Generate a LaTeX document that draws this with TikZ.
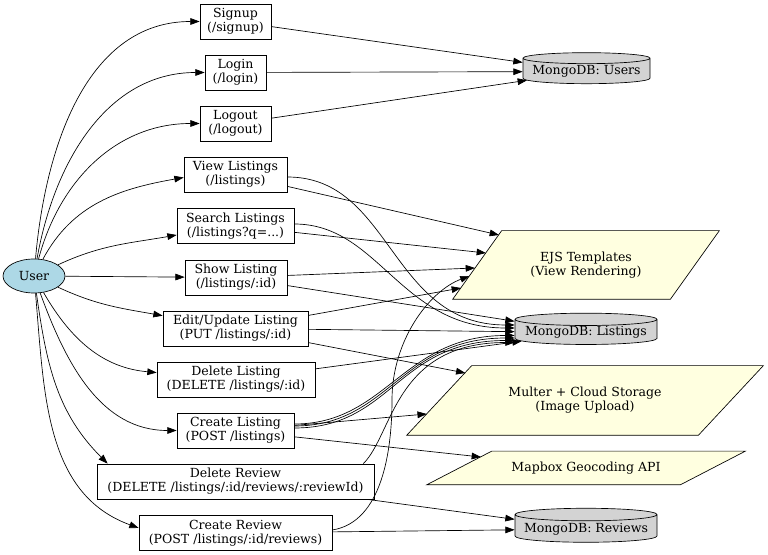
\documentclass[tikz,border=0pt]{standalone}
\usepackage{fontspec}
\setmainfont{DejaVu Serif}
\usetikzlibrary{shapes.geometric,arrows.meta,backgrounds}
\definecolor{ublue}{HTML}{ADD8E6}
\definecolor{ugray}{HTML}{D3D3D3}
\definecolor{uyellow}{HTML}{FFFFE0}
\newcommand\pgramshape[2]{%
  \begin{scope}[on background layer]
    \draw[fill=uyellow] (#1.south west) -- ([shift={(#2,0)}]#1.north west) -- (#1.north east) -- ([shift={(-#2,0)}]#1.south east) -- cycle;
  \end{scope}}
\begin{document}
\begin{tikzpicture}[x=0.75pt,y=0.75pt,
  font=\fontsize{9.4}{10.4}\selectfont,
  route/.style={draw, rectangle, align=center, inner sep=0.5pt, minimum height=26.25pt},
  db/.style={cylinder, shape border rotate=90, aspect=0.1, draw, fill=ugray, inner sep=0.5pt},
  ext/.style={rectangle, align=center, inner sep=0.5pt},
  arr/.style={-{Triangle[length=7pt,width=5pt]}, line width=0.5pt},
  every path/.style={line width=0.5pt}]
\useasboundingbox (0,0) rectangle (768,-555);

% user
\node[ellipse, draw, fill=ublue, minimum width=46.5pt, minimum height=25.5pt, inner sep=0pt] (user) at (34,-276) {User};

% routes
\node[route, minimum width=53.25pt] (signup) at (235.5,-21.5) {Signup\\(/signup)};
\node[route, minimum width=45.75pt] (login) at (235.5,-72.5) {Login\\(/login)};
\node[route, minimum width=53.25pt] (logout) at (235.5,-123.5) {Logout\\(/logout)};
\node[route, minimum width=77.25pt] (view) at (235.5,-174.5) {View Listings\\(/listings)};
\node[route, minimum width=87.75pt] (search) at (235.5,-226) {Search Listings\\(/listings?q=...)};
\node[route, minimum width=76.5pt] (show) at (236,-277.5) {Show Listing\\(/listings/:id)};
\node[route, minimum width=108.75pt] (edit) at (235.5,-328.5) {Edit/Update Listing\\(PUT /listings/:id)};
\node[route, minimum width=118.5pt] (dellist) at (236,-379.5) {Delete Listing\\(DELETE /listings/:id)};
\node[route, minimum width=87.75pt] (create) at (235.5,-430.5) {Create Listing\\(POST /listings)};
\node[route, minimum width=207.75pt] (delrev) at (235.5,-481.5) {Delete Review\\(DELETE /listings/:id/reviews/:reviewId)};
\node[route, minimum width=144.75pt] (createrev) at (235.5,-533) {Create Review\\(POST /listings/:id/reviews)};

% targets
\node[db, minimum width=95.25pt, minimum height=23.25pt] (users) at (586.5,-71.5) {MongoDB: Users};
\node[db, minimum width=106.5pt, minimum height=23.25pt] (listings) at (586,-332.5) {MongoDB: Listings};
\node[db, minimum width=106.5pt, minimum height=25.5pt] (reviews) at (586,-529) {MongoDB: Reviews};
\node[ext, minimum width=199.5pt, minimum height=51pt] (ejs) at (586,-265) {EJS Templates\\(View Rendering)};
\pgramshape{ejs}{49}
\node[ext, minimum width=267pt, minimum height=51.75pt] (multer) at (585,-400.5) {Multer + Cloud Storage\\(Image Upload)};
\pgramshape{multer}{65}
\node[ext, minimum width=238.5pt, minimum height=24.75pt] (mapbox) at (586,-468) {Mapbox Geocoding API};
\pgramshape{mapbox}{65}

% entry points on the slanted sides
\coordinate (ejsA) at ([shift={(-87,30)}]ejs.center);
\coordinate (ejsB) at ([shift={(-100,12)}]ejs.center);
\coordinate (ejsC) at ([shift={(-111,-3)}]ejs.center);
\coordinate (ejsD) at ([shift={(-116.5,-11)}]ejs.center);
\coordinate (ejsE) at ([shift={(-125,-23)}]ejs.center);
\coordinate (multerA) at ([shift={(-119.6,27.5)}]multer.center);
\coordinate (multerB) at ([shift={(-158.2,-13.5)}]multer.center);
\coordinate (mapboxA) at ([shift={(-105,11)}]mapbox.center);
\coordinate (revbend) at (392,-400);

% user edges
\draw[arr] (user) to[out=85,in=180] (signup);
\draw[arr] (user) to[out=80,in=180] (login);
\draw[arr] (user) to[out=75,in=180] (logout);
\draw[arr] (user) to[out=62,in=190] ([shift={(0,-3)}]view.west);
\draw[arr] (user) to[out=25,in=190] ([shift={(0,-9)}]search.west);
\draw[arr] (user) -- (show);
\draw[arr] (user) to[out=-25,in=170] (edit);
\draw[arr] (user) to[out=-60,in=175] (dellist);
\draw[arr] (user) to[out=-70,in=180] (create);
\draw[arr] (user) to[out=-82,in=135] ([shift={(11,0)}]delrev.north west);
\draw[arr] (user) to[out=-85,in=160] ([shift={(0,5)}]createrev.west);

% auth
\draw[arr] (signup) -- (users);
\draw[arr] (login) -- (users);
\draw[arr] (logout) -- (users);

% listings
\draw[arr] (view) -- (ejsA);
\draw[arr] ([shift={(0,-2.5)}]view.east) .. controls +(105,0) and +(-125,0) .. ([shift={(0,7.5)}]listings.west);
\draw[arr] (search) -- (ejsB);
\draw[arr] ([shift={(0,2)}]search.east) .. controls +(85,0) and +(-115,0) .. ([shift={(0,4.5)}]listings.west);
\draw[arr] (show) -- (ejsC);
\draw[arr] (show) -- (listings);
\draw[arr] (edit) -- (ejsE);
\draw[arr] (edit) -- (listings);
\draw[arr] (edit) -- (multerA);
\draw[arr] (dellist) -- (listings);
\draw[arr] ([shift={(0,6.5)}]create.east) .. controls +(92,0) and +(-112,0) .. ([shift={(0,-3)}]listings.west);
\draw[arr] ([shift={(0,4.5)}]create.east) .. controls +(95,0) and +(-115,0) .. ([shift={(0,-5.5)}]listings.west);
\draw[arr] ([shift={(0,2.5)}]create.east) .. controls +(98,0) and +(-118,0) .. ([shift={(0,-8)}]listings.west);
\draw[arr] (create) -- (multerB);
\draw[arr] (create) -- (mapboxA);

% reviews
\draw[arr] ([shift={(-11,0)}]delrev.north east) .. controls +(30,30) and +(-120,0) .. ([shift={(0,-10)}]listings.west);
\draw[arr] ([shift={(0,3)}]createrev.east) .. controls +(50,8) and +(0,-50) .. (revbend) .. controls +(0,60) and +(-40,-15) .. (ejsD);
\draw[arr] (delrev) -- (reviews);
\draw[arr] (createrev) -- (reviews);
\end{tikzpicture}
\end{document}
